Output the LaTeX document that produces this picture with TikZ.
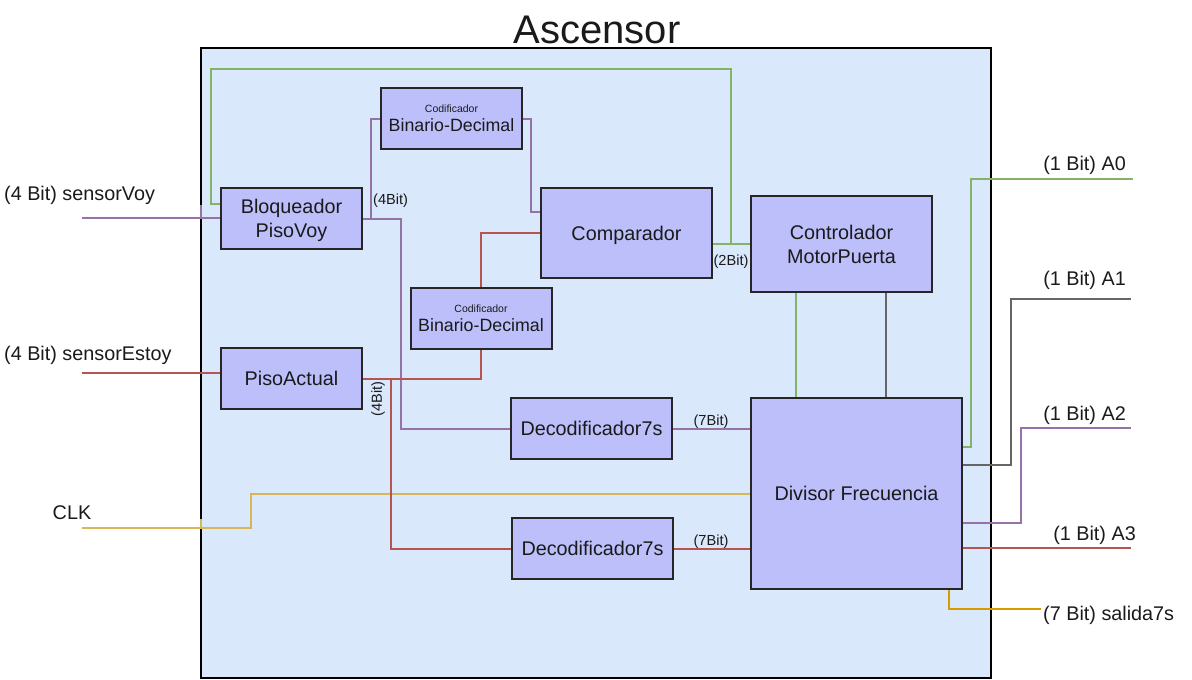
\documentclass[tikz,border=0pt]{standalone}
\usepackage{fontspec}
\setmainfont{Liberation Sans}
\definecolor{outerfill}{HTML}{DAE8FC}
\definecolor{blockfill}{RGB}{188,191,250}
\definecolor{blockline}{HTML}{262626}
\definecolor{wpur}{HTML}{9673A6}
\definecolor{wred}{HTML}{B85450}
\definecolor{wgrn}{HTML}{82B366}
\definecolor{wyel}{HTML}{D6B656}
\definecolor{wgry}{HTML}{666666}
\definecolor{worg}{HTML}{D79B00}
\definecolor{txt}{HTML}{1A1A1A}
\tikzset{
  blockbox/.style={draw=blockline, fill=blockfill, line width=2pt, inner sep=0pt, align=center,
    text=txt, text depth=0pt, font=\fontsize{19.8}{24}\selectfont},
  wire/.style={line width=2pt},
  lbl/.style={text=txt, inner sep=0pt, font=\fontsize{19.8}{24}\selectfont},
  smalllbl/.style={text=txt, inner sep=0pt, font=\fontsize{14.6}{17}\selectfont},
}
\begin{document}
\begin{tikzpicture}[x=1pt,y=-1pt]
\useasboundingbox (0,0) rectangle (1192,680);
% outer
\node[draw=black, fill=outerfill, line width=2pt, minimum width=790pt, minimum height=630pt, inner sep=0pt] (outer) at (596,363) {};
\node[lbl, font=\fontsize{40}{46}\selectfont] (title) at (597,30) {Ascensor};

% blocks
\node[blockbox, minimum width=141pt, minimum height=61pt] (blq) at (291.5,218.5) {Bloqueador\\PisoVoy};
\node[blockbox, minimum width=141pt, minimum height=61pt] (cod1) at (451.5,118.5)
  {{\fontsize{10.5}{11}\selectfont Codificador}\\[-5pt]{\fontsize{17.8}{20}\selectfont Binario-Decimal}};
\node[blockbox, minimum width=171pt, minimum height=90pt] (cmp) at (626.5,233) {Comparador};
\node[blockbox, minimum width=141pt, minimum height=61pt] (cod2) at (481,318.5)
  {{\fontsize{10.5}{11}\selectfont Codificador}\\[-5pt]{\fontsize{17.8}{20}\selectfont Binario-Decimal}};
\node[blockbox, minimum width=141pt, minimum height=61pt] (pact) at (291.5,378.5) {PisoActual};
\node[blockbox, minimum width=161pt, minimum height=61pt] (dec1) at (591.5,428.5) {Decodificador7s};
\node[blockbox, minimum width=161pt, minimum height=61pt] (dec2) at (592.5,548.5) {Decodificador7s};
\node[blockbox, minimum width=181pt, minimum height=96pt] (ctl) at (841.5,244) {Controlador\\MotorPuerta};
\node[blockbox, minimum width=211pt, minimum height=191pt] (div) at (856.5,493.5) {Divisor Frecuencia};

% free ends
\coordinate (svin) at (82,218);
\coordinate (sein) at (82,373);
\coordinate (clkin) at (82,528);
\coordinate (a0) at (1133,179);
\coordinate (a1) at (1131,299);
\coordinate (a2) at (1131,428);
\coordinate (a3) at (1131,548);
\coordinate (s7) at (1041,609);

% inputs
\draw[wire, wpur] (svin) -- (svin -| blq.west);
\draw[wire, wpur] (201,205) -- (201,218);
\draw[wire, wred] (sein) -- (sein -| pact.west);
\draw[wire, wyel] (clkin) -- (251,528) -- (251,494) -- (div.west |- 0,494);
\draw[wire, wyel] (201,519) -- (201,528);

% green feedback
\draw[wire, wgrn] (blq.west |- 0,204) -- (211,204) -- (211,69) -- (731,69) -- (731,244);
\draw[wire, wgrn] (cmp.east |- ctl.west) -- (ctl.west);

% purple internal
\draw[wire, wpur] (blq.east) -| (401,300) |- (dec1.west);
\draw[wire, wpur] (blq.east) -| (371,150) |- (cod1.west);
\draw[wire, wpur] (cod1.east) -| (531,180) |- (cmp.west |- 0,212);
\draw[wire, wpur] (dec1.east) -- (dec1.east -| div.west);

% red internal
\draw[wire, wred] (cmp.west) -| (cod2.north);
\draw[wire, wred] (cod2.south) |- (pact.east);
\draw[wire, wred] (pact.east) -| (391,450) |- (dec2.west);
\draw[wire, wred] (dec2.east) -- (dec2.east -| div.west);

% controller to divisor
\draw[wire, wgrn] (ctl.south -| 796,0) -- (div.north -| 796,0);
\draw[wire, wgry] (ctl.south -| 886,0) -- (div.north -| 886,0);

% outputs
\draw[wire, wgrn] (div.east |- 0,447) -| (971,300) |- (a0);
\draw[wire, wgry] (div.east |- 0,465) -| (1011,400) |- (a1);
\draw[wire, wpur] (div.east |- 0,523) -| (1021,450) |- (a2);
\draw[wire, wred] (div.east |- 0,548) -- (a3);
\draw[wire, worg] (div.south -| 949,0) |- (s7);

% labels
\node[lbl, anchor=west] (lsv) at (4,195.5) {(4 Bit) sensorVoy};
\node[lbl, anchor=west] (lse) at (4,355.5) {(4 Bit) sensorEstoy};
\node[lbl] (lclk) at (72,513) {CLK};
\node[lbl, anchor=east] (la0) at (1126,165) {(1 Bit) A0};
\node[lbl, anchor=east] (la1) at (1126,280) {(1 Bit) A1};
\node[lbl, anchor=east] (la2) at (1126,415) {(1 Bit) A2};
\node[lbl, anchor=east] (la3) at (1136,535) {(1 Bit) A3};
\node[lbl, anchor=west] (ls7) at (1043,615) {(7 Bit) salida7s};

\node[smalllbl, anchor=west] (b4a) at (373,201) {(4Bit)};
\node[smalllbl, rotate=90] (b4b) at (378,399) {(4Bit)};
\node[smalllbl] (b2) at (731,262) {(2Bit)};
\node[smalllbl] (b7a) at (711,422) {(7Bit)};
\node[smalllbl] (b7b) at (711,542) {(7Bit)};
\end{tikzpicture}
\end{document}
